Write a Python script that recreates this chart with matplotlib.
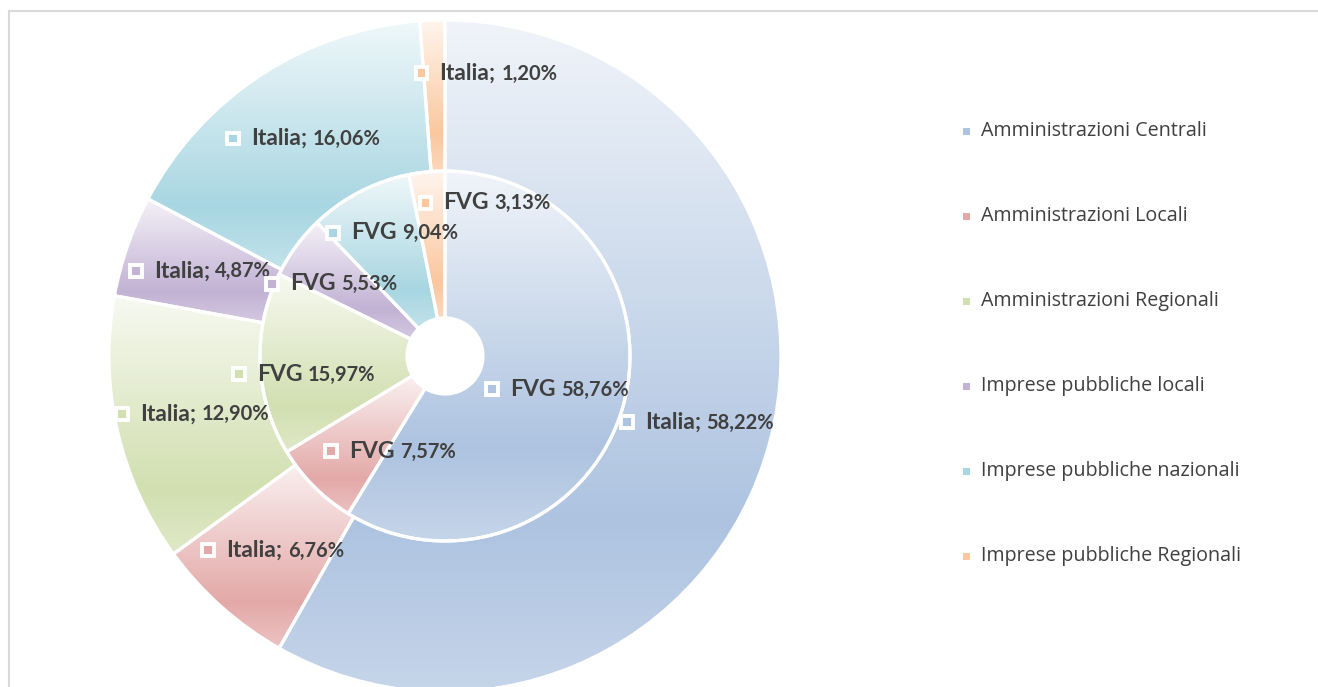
import numpy as np
import matplotlib
matplotlib.use("Agg")
import matplotlib.pyplot as plt
from matplotlib.colors import to_rgb
from matplotlib.patches import Rectangle
from matplotlib.offsetbox import (AnnotationBbox, DrawingArea, HPacker,
                                  TextArea)

plt.rcParams["font.family"] = ["Open Sans", "DejaVu Sans"]

CATEGORIES = ["Amministrazioni Centrali", "Amministrazioni Locali",
              "Amministrazioni Regionali", "Imprese pubbliche locali",
              "Imprese pubbliche nazionali", "Imprese pubbliche Regionali"]
ITALIA = [58.22, 6.76, 12.90, 4.87, 16.06, 1.20]
FVG = [58.76, 7.57, 15.97, 5.53, 9.04, 3.13]

COLORS = ["#adc3e0", "#e3a9a8", "#d2dfb0", "#c2b2d4", "#a8d6e2", "#fbc79e"]
TEXT_COL = "#404040"

W, H = 1318, 687
CX, CY = 445, H - 356
R_OUT, R_MID, R_HOLE = 336, 185, 38

# label nudges in pixels (dx right, dy down), Excel moved a few labels
OUT_NUDGE = [(0, 0), (0, 0), (0, 0), (0, 0), (0, 0), (50, -23)]
IN_NUDGE = [(-6, 0), (31, 9), (-20, 13), (-16, 0), (3, -15), (51, -32)]


def blend(c, t):
    c = np.array(to_rgb(c))
    return c + (1 - c) * t


def gradient(c, n=256):
    t = np.linspace(0, 1, n)
    stops = [(0.0, blend(c, 0.82)), (0.75, blend(c, 0.0)), (1.0, blend(c, 0.3))]
    xs = [s[0] for s in stops]
    rgb = np.stack([np.interp(t, xs, [s[1][k] for s in stops]) for k in range(3)], axis=1)
    return rgb[:, None, :]


fig = plt.figure(figsize=(W / 100, H / 100), dpi=100)
ax = fig.add_axes([0, 0, 1, 1])

ring_specs = [(ITALIA, R_OUT, R_OUT - R_MID), (FVG, R_MID, R_MID - R_HOLE)]
for vals, rad, width in ring_specs:
    wedges, _ = ax.pie(vals, radius=rad, center=(CX, CY), startangle=90,
                       counterclock=False, colors=COLORS,
                       wedgeprops=dict(width=width, edgecolor="white",
                                       linewidth=2.3))
    for w, col in zip(wedges, COLORS):
        ext = w.get_path().get_extents()
        im = ax.imshow(gradient(col), extent=(ext.x0, ext.x1, ext.y0, ext.y1),
                       origin="upper", aspect="auto", zorder=2,
                       interpolation="bilinear")
        im.set_clip_path(w)
        w.set_facecolor("none")
        w.set_zorder(3)


def add_label(x, y, name, value, col):
    da = DrawingArea(12, 12, 0, 0)
    da.add_artist(Rectangle((1.7, 1.7), 8.6, 8.6, facecolor=col,
                            edgecolor="white", linewidth=2.8))
    tp = dict(fontweight="bold", color=TEXT_COL, family=["Lato", "DejaVu Sans"])
    txt = HPacker(children=[TextArea(name, textprops=dict(fontsize=16.5, **tp)),
                            TextArea(value, textprops=dict(fontsize=14.5, **tp))],
                  align="baseline", pad=0, sep=4)
    box = HPacker(children=[da, txt], align="center", pad=0, sep=7)
    ab = AnnotationBbox(box, (x, y), xycoords="data", frameon=False,
                        box_alignment=(0.5, 0.5), pad=0, zorder=5)
    ax.add_artist(ab)


for vals, r_lab, nudges, prefix in [(ITALIA, 260, OUT_NUDGE, "Italia;"),
                                    (FVG, 122, IN_NUDGE, "FVG")]:
    total = sum(vals)
    cum = 0
    for v, col, (dx, dy) in zip(vals, COLORS, nudges):
        th = np.deg2rad(360 * (cum + v / 2) / total)
        cum += v
        x = CX + r_lab * np.sin(th) + dx
        y = CY + r_lab * np.cos(th) - dy
        add_label(x, y, prefix, f"{v:.2f}%".replace(".", ","), col)

# legend
for i, (cat, col) in enumerate(zip(CATEGORIES, COLORS)):
    ly = H - (131 + 85 * i)
    ax.add_patch(Rectangle((963, ly - 3.5), 7, 7, facecolor=col,
                           edgecolor="none", zorder=4))
    ax.text(981, ly, cat, fontsize=14.2, color=TEXT_COL, va="center",
            ha="left", zorder=4)

# chart frame
ax.add_patch(Rectangle((9, -20), W + 40, H - 11 + 20, facecolor="none",
                       edgecolor="#d9d9d9", linewidth=1.5, zorder=6,
                       clip_on=False))

ax.set_xlim(0, W)
ax.set_ylim(0, H)
ax.set_aspect("equal")
ax.axis("off")

fig.savefig("out.png", dpi=100)
